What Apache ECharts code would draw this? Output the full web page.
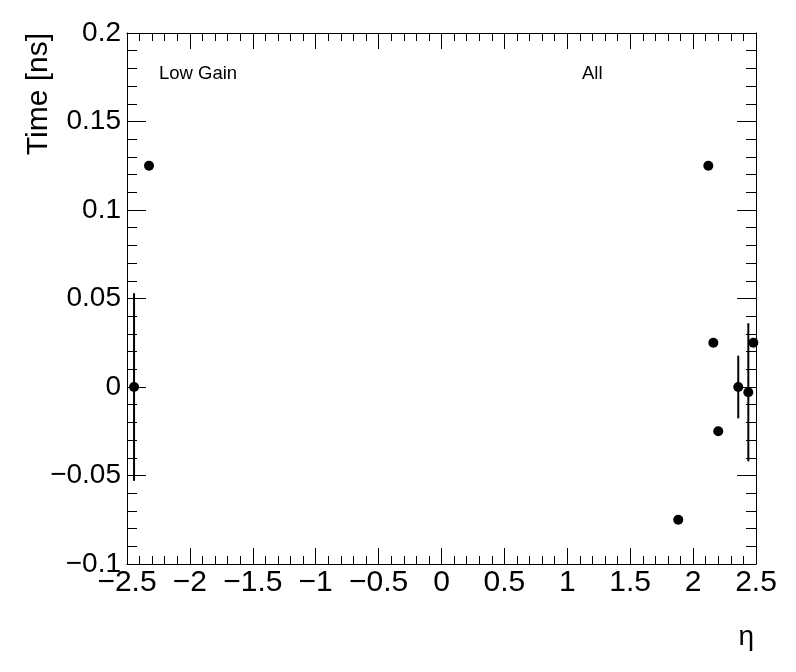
<!DOCTYPE html>
<html>
<head>
<meta charset="utf-8">
<script src="https://cdn.jsdelivr.net/npm/echarts@6/dist/echarts.min.js"></script>
<style>html,body{margin:0;padding:0;background:#fff}#c{width:796px;height:672px}</style>
</head>
<body>
<div id="c"></div>
<script>
// Data
const etaValues  = [-2.444, -2.325, 1.882, 2.121, 2.161, 2.200, 2.359, 2.439, 2.479];
const timeValues = [0.000, 0.125, -0.075, 0.125, 0.025, -0.025, 0.000, -0.003, 0.025];
const timeErrors = [0.053, 0, 0, 0, 0, 0, 0.0177, 0.039, 0];
const xTitle = 'η';
const yTitle = 'Time [ns]';
const label1 = 'Low Gain';
const label2 = 'All';

const FONT = '"Liberation Sans", Arial, Helvetica, sans-serif';
const fmt = v => String(parseFloat(Number(v).toFixed(3))).replace('-', '\u2212');

const points = etaValues.map((x, i) => [x, timeValues[i]]);
const errs = etaValues.map((x, i) => [x, timeValues[i], timeErrors[i]]);

const chart = echarts.init(document.getElementById('c'), null, {renderer: 'canvas'});

const axisCommon = {
  type: 'value',
  axisLine: {show: true, onZero: false, lineStyle: {color: '#000', width: 1}},
  splitLine: {show: false},
  minorSplitLine: {show: false}
};

chart.setOption({
  animation: false,
  backgroundColor: '#fff',
  grid: {left: 127, right: 40, top: 33, bottom: 108, containLabel: false},
  xAxis: [
    Object.assign({}, axisCommon, {
      min: -2.5, max: 2.5, interval: 0.5, position: 'bottom',
      axisTick: {show: true, inside: true, length: 16, lineStyle: {color: '#000'}},
      minorTick: {show: true, splitNumber: 5, length: 8, lineStyle: {color: '#000'}},
      axisLabel: {show: true, color: '#000', fontFamily: FONT, fontSize: 30, margin: 4, formatter: fmt}
    }),
    Object.assign({}, axisCommon, {
      min: -2.5, max: 2.5, interval: 0.5, position: 'top',
      axisTick: {show: true, inside: true, length: 16, lineStyle: {color: '#000'}},
      minorTick: {show: true, splitNumber: 5, length: 8, lineStyle: {color: '#000'}},
      axisLabel: {show: false}
    })
  ],
  yAxis: [
    Object.assign({}, axisCommon, {
      min: -0.1, max: 0.2, interval: 0.05, position: 'left',
      axisTick: {show: true, inside: true, length: 19, lineStyle: {color: '#000'}},
      minorTick: {show: true, splitNumber: 5, length: 10, lineStyle: {color: '#000'}},
      axisLabel: {show: true, color: '#000', fontFamily: FONT, fontSize: 28, margin: 6, formatter: fmt}
    }),
    Object.assign({}, axisCommon, {
      min: -0.1, max: 0.2, interval: 0.05, position: 'right',
      axisTick: {show: true, inside: true, length: 19, lineStyle: {color: '#000'}},
      minorTick: {show: true, splitNumber: 5, length: 10, lineStyle: {color: '#000'}},
      axisLabel: {show: false}
    })
  ],
  series: [
    {
      type: 'custom',
      xAxisIndex: 0, yAxisIndex: 0,
      data: errs,
      clip: false,
      renderItem: function (params, api) {
        const x = api.value(0), y = api.value(1), e = api.value(2);
        if (!e) return null;
        const p1 = api.coord([x, y - e]);
        const p2 = api.coord([x, y + e]);
        return {
          type: 'line',
          shape: {x1: p1[0], y1: p1[1], x2: p2[0], y2: p2[1]},
          style: {stroke: '#000', lineWidth: 2}
        };
      },
      z: 2
    },
    {
      type: 'scatter',
      xAxisIndex: 0, yAxisIndex: 0,
      data: points,
      symbol: 'circle',
      symbolSize: 10,
      itemStyle: {color: '#000', opacity: 1},
      clip: false,
      z: 3
    }
  ],
  graphic: [
    {type: 'text', x: 39, y: 33, rotation: Math.PI / 2,
     style: {text: yTitle, font: '30px ' + FONT, fill: '#000', textAlign: 'right', textVerticalAlign: 'middle'}},
    {type: 'text', x: 754, y: 637,
     style: {text: xTitle, font: '28px ' + FONT, fill: '#000', textAlign: 'right', textVerticalAlign: 'middle'}},
    {type: 'text', x: 159, y: 74,
     style: {text: label1, font: '18.5px ' + FONT, fill: '#000', textAlign: 'left', textVerticalAlign: 'middle'}},
    {type: 'text', x: 582, y: 74,
     style: {text: label2, font: '18.5px ' + FONT, fill: '#000', textAlign: 'left', textVerticalAlign: 'middle'}}
  ]
});
</script>
</body>
</html>
